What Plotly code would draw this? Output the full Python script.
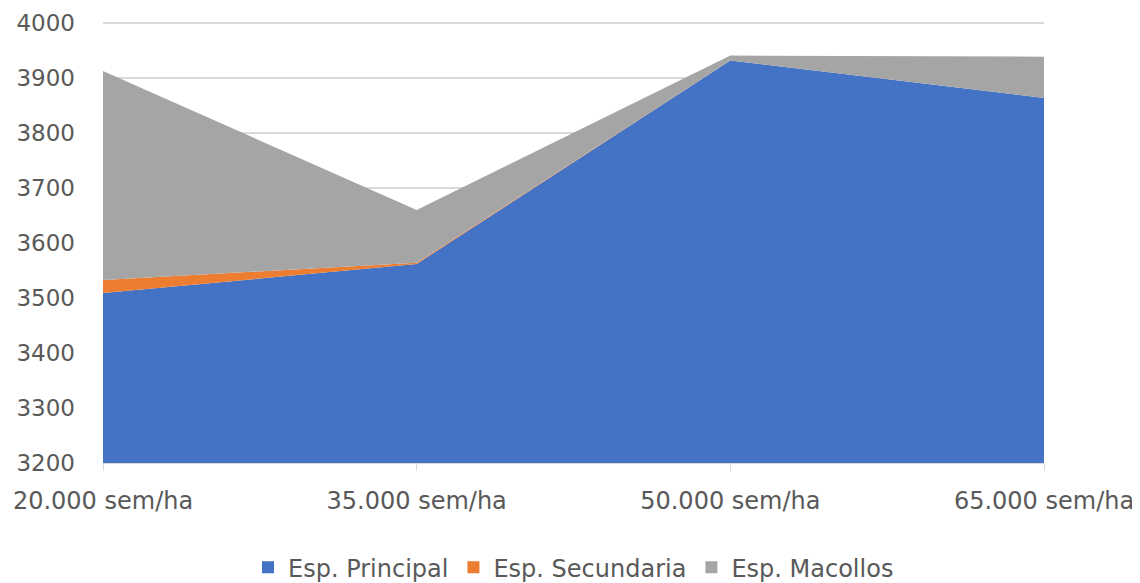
import plotly.graph_objects as go

categories = ["20.000 sem/ha", "35.000 sem/ha", "50.000 sem/ha", "65.000 sem/ha"]
principal = [3509, 3562, 3932, 3864]
secundaria = [24, 2, 0, 0]
macollos = [380, 96, 9, 75]
series_names = ["Esp. Principal", "Esp. Secundaria", "Esp. Macollos"]
colors = ["#4472C4", "#ED7D31", "#A5A5A5"]
y_ticks = [3200, 3300, 3400, 3500, 3600, 3700, 3800, 3900, 4000]

x = list(range(len(categories)))
fig = go.Figure()
for name, vals, col in zip(series_names, [principal, secundaria, macollos], colors):
    fig.add_trace(go.Scatter(
        x=x, y=vals, name=name, mode="lines", stackgroup="one",
        line=dict(width=0, color=col), fillcolor=col, showlegend=False,
    ))
# legend entries with square swatches
for name, col in zip(series_names, colors):
    fig.add_trace(go.Scatter(
        x=[None], y=[None], name=name, mode="markers",
        marker=dict(symbol="square", size=13, color=col), showlegend=True,
    ))

font_family = "DejaVu Sans, Liberation Sans, Arial"
fig.update_layout(
    width=1140, height=583,
    margin=dict(l=95, r=104, t=14, b=128),
    paper_bgcolor="white", plot_bgcolor="white",
    font=dict(family=font_family, color="#595959", size=22),
    showlegend=True,
    legend=dict(orientation="h", x=0.5, xanchor="center",
                yref="container", y=0.04, yanchor="middle",
                font=dict(size=24, color="#595959"), traceorder="normal",
                itemsizing="constant", itemwidth=30),
    xaxis=dict(
        range=[0, 3], tickvals=x, ticktext=categories, showgrid=False,
        showline=True, linecolor="#D9D9D9", linewidth=1,
        ticks="outside", ticklen=7, tickcolor="#D9D9D9",
        ticklabelstandoff=9, zeroline=False, automargin=False,
        tickfont=dict(size=24),
    ),
    yaxis=dict(
        range=[3200, 4002], tickvals=y_ticks, showgrid=True, gridcolor="#D9D9D9",
        gridwidth=2, zeroline=False, showline=False, ticklabelstandoff=27,
        automargin=False, tickfont=dict(size=23),
    ),
)
fig.write_html("out.html")
